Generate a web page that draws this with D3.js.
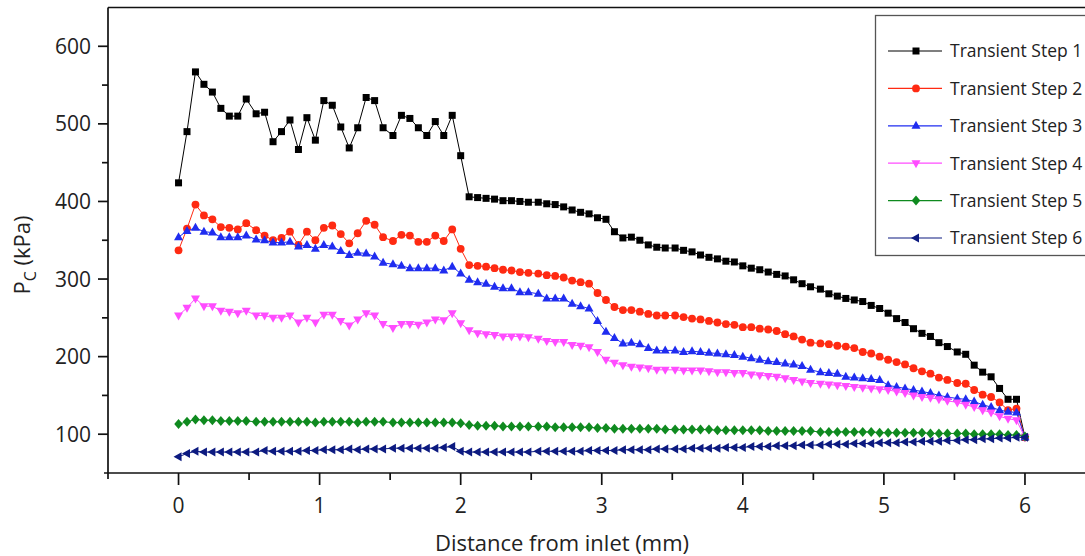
<!DOCTYPE html>
<html>
<head>
<meta charset="utf-8">
<script src="https://cdn.jsdelivr.net/npm/d3@7"></script>
<style>
  body { margin: 0; background: #fff; }
  svg { display: block; }
</style>
</head>
<body>
<svg id="chart" width="1085" height="556"></svg>
<script>
// Distance from inlet (mm) at each sampled node
const distance = [
  0.00, 0.06, 0.12, 0.18, 0.24, 0.30, 0.36, 0.42, 0.48, 0.55,
  0.61, 0.67, 0.73, 0.79, 0.85, 0.91, 0.97, 1.03, 1.09, 1.15,
  1.21, 1.27, 1.33, 1.39, 1.45, 1.52, 1.58, 1.64, 1.70, 1.76,
  1.82, 1.88, 1.94, 2.00, 2.06, 2.12, 2.18, 2.24, 2.30, 2.36,
  2.42, 2.48, 2.55, 2.61, 2.67, 2.73, 2.79, 2.85, 2.91, 2.97,
  3.03, 3.09, 3.15, 3.21, 3.27, 3.33, 3.39, 3.45, 3.52, 3.58,
  3.64, 3.70, 3.76, 3.82, 3.88, 3.94, 4.00, 4.06, 4.12, 4.18,
  4.24, 4.30, 4.36, 4.42, 4.48, 4.55, 4.61, 4.67, 4.73, 4.79,
  4.85, 4.91, 4.97, 5.03, 5.09, 5.15, 5.21, 5.27, 5.33, 5.39,
  5.45, 5.52, 5.58, 5.64, 5.70, 5.76, 5.82, 5.88, 5.94, 6.00
];

// Capillary pressure P_C (kPa) for each transient step
const step1 = [
  424, 490, 567, 551, 541, 520, 510, 510, 532, 513,
  515, 477, 490, 505, 467, 508, 479, 530, 524, 496,
  469, 495, 534, 530, 495, 485, 511, 507, 495, 485,
  503, 485, 511, 459, 406, 405, 404, 403, 401, 401,
  400, 399, 399, 397, 396, 393, 389, 386, 384, 379,
  377, 361, 353, 354, 350, 344, 341, 340, 340, 337,
  335, 331, 328, 326, 323, 322, 317, 314, 312, 309,
  306, 304, 299, 294, 290, 287, 281, 278, 275, 273,
  271, 266, 262, 256, 249, 244, 236, 230, 226, 218,
  213, 206, 203, 189, 180, 174, 159, 145, 145, 96
];
const step2 = [
  337, 365, 396, 382, 377, 367, 366, 364, 372, 363,
  356, 350, 353, 361, 344, 361, 350, 366, 369, 358,
  346, 359, 375, 370, 354, 349, 357, 356, 348, 348,
  356, 349, 364, 339, 318, 317, 316, 314, 312, 311,
  309, 308, 307, 305, 304, 302, 298, 296, 294, 282,
  273, 264, 260, 260, 258, 255, 253, 253, 253, 251,
  249, 248, 246, 244, 242, 241, 238, 238, 236, 235,
  233, 229, 226, 222, 218, 217, 216, 214, 213, 211,
  206, 204, 200, 196, 193, 190, 185, 181, 178, 173,
  170, 166, 165, 157, 151, 148, 141, 131, 133, 96
];
const step3 = [
  354, 362, 366, 361, 360, 354, 354, 354, 356, 351,
  350, 347, 347, 348, 342, 344, 339, 344, 342, 336,
  331, 334, 333, 329, 321, 319, 317, 314, 314, 314,
  314, 311, 316, 307, 299, 296, 294, 290, 288, 288,
  283, 283, 281, 275, 275, 275, 268, 265, 262, 246,
  232, 224, 217, 218, 216, 211, 208, 208, 208, 206,
  207, 206, 205, 204, 203, 202, 200, 198, 196, 194,
  193, 191, 190, 188, 183, 180, 179, 178, 174, 173,
  172, 171, 170, 163, 161, 159, 157, 155, 153, 150,
  148, 146, 145, 142, 138, 135, 131, 129, 128, 96
];
const step4 = [
  253, 263, 275, 265, 265, 259, 258, 256, 259, 253,
  253, 250, 250, 253, 244, 250, 244, 254, 254, 246,
  240, 248, 256, 253, 242, 237, 242, 242, 241, 244,
  248, 247, 256, 243, 234, 230, 229, 228, 226, 226,
  226, 225, 223, 220, 219, 219, 215, 214, 212, 206,
  196, 192, 189, 187, 186, 185, 183, 183, 183, 182,
  182, 182, 181, 180, 180, 179, 179, 177, 176, 175,
  174, 172, 170, 168, 166, 165, 164, 163, 162, 161,
  160, 159, 158, 157, 155, 153, 150, 148, 147, 145,
  143, 141, 138, 135, 131, 128, 123, 120, 118, 96
];
const step5 = [
  113, 116, 119, 118, 118, 117, 117, 117, 117, 116,
  116, 116, 116, 116, 116, 116, 115, 116, 116, 116,
  116, 115, 116, 116, 116, 115, 115, 115, 115, 115,
  115, 115, 115, 114, 112, 111, 111, 111, 110, 110,
  110, 110, 110, 110, 109, 109, 109, 109, 109, 108,
  108, 107, 107, 107, 107, 107, 107, 106, 106, 106,
  106, 106, 106, 105, 105, 105, 105, 105, 105, 104,
  104, 104, 104, 104, 104, 103, 103, 103, 103, 103,
  103, 103, 102, 102, 102, 102, 102, 102, 101, 101,
  101, 101, 101, 100, 100, 100, 100, 99, 99, 97
];
const step6 = [
  71, 75, 78, 77, 77, 77, 77, 77, 77, 77,
  79, 78, 78, 78, 78, 79, 79, 80, 80, 80,
  81, 80, 81, 81, 81, 82, 82, 82, 82, 82,
  82, 83, 84, 78, 77, 77, 77, 77, 77, 77,
  77, 77, 78, 78, 78, 78, 78, 78, 79, 79,
  79, 79, 80, 80, 80, 80, 81, 81, 81, 81,
  82, 82, 82, 82, 83, 83, 83, 84, 84, 84,
  85, 85, 85, 86, 86, 86, 87, 87, 87, 88,
  88, 88, 89, 89, 89, 90, 90, 91, 91, 91,
  92, 92, 93, 93, 94, 94, 95, 95, 96, 96
];

const seriesNames = ["Transient Step 1", "Transient Step 2", "Transient Step 3",
                     "Transient Step 4", "Transient Step 5", "Transient Step 6"];
const seriesValues = [step1, step2, step3, step4, step5, step6];
const seriesColors = ["#000000", "#ff2a12", "#1f2cf0", "#ff4cff", "#0f8a1f", "#0c1a80"];
const seriesShapes = ["square", "circle", "triangleUp", "triangleDown", "diamond", "triangleLeft"];

const xTickValues = [0, 1, 2, 3, 4, 5, 6];
const xMinorTicks = [0.5, 1.5, 2.5, 3.5, 4.5, 5.5];
const yTickValues = [100, 200, 300, 400, 500, 600];
const yMinorTicks = [150, 250, 350, 450, 550];

const svg = d3.select("#chart");
const x = d3.scaleLinear().domain([-0.5, 6.5]).range([108, 1095.5]);
const y = d3.scaleLinear().domain([50, 650]).range([473, 7.5]);

const FONT = "'Open Sans', 'Noto Sans', sans-serif";

// Marker outlines, centred on the data point
function markerPath(shape) {
  switch (shape) {
    case "square": return "M-3.5,-3.5H3.5V3.5H-3.5Z";
    case "circle": return d3.symbol(d3.symbolCircle, 48)();
    case "triangleUp": return "M0,-5L4.5,3L-4.5,3Z";
    case "triangleDown": return "M0,5L4.5,-3L-4.5,-3Z";
    case "diamond": return "M0,-5L4.3,0L0,5L-4.3,0Z";
    case "triangleLeft": return "M-5,0L3,-4.5L3,4.5Z";
  }
}

// Frame: left and bottom axes plus top border
const frame = svg.append("g").attr("stroke", "#111").attr("stroke-width", 1.7).attr("fill", "none");
frame.append("line").attr("x1", x(-0.5)).attr("x2", x(-0.5)).attr("y1", y(650)).attr("y2", y(50) + 6);
frame.append("line").attr("x1", x(-0.5) - 4).attr("x2", 1085).attr("y1", y(50)).attr("y2", y(50));
frame.append("line").attr("x1", x(-0.5)).attr("x2", 1085).attr("y1", y(650)).attr("y2", y(650));

// Y axis ticks and labels
const yAxis = svg.append("g");
yAxis.selectAll("line.major").data(yTickValues).join("line")
  .attr("x1", x(-0.5) - 10).attr("x2", x(-0.5))
  .attr("y1", d => y(d)).attr("y2", d => y(d))
  .attr("stroke", "#111").attr("stroke-width", 1.7);
yAxis.selectAll("line.minor").data(yMinorTicks).join("line")
  .attr("x1", x(-0.5) - 6).attr("x2", x(-0.5))
  .attr("y1", d => y(d)).attr("y2", d => y(d))
  .attr("stroke", "#111").attr("stroke-width", 1.7);
yAxis.selectAll("text").data(yTickValues).join("text")
  .attr("x", x(-0.5) - 17).attr("y", d => y(d))
  .attr("dy", "0.36em").attr("text-anchor", "end")
  .attr("font-family", FONT).attr("font-size", 21).attr("fill", "#222")
  .text(d => d);

// X axis ticks and labels
const xAxis = svg.append("g");
xAxis.selectAll("line.major").data(xTickValues).join("line")
  .attr("x1", d => x(d)).attr("x2", d => x(d))
  .attr("y1", y(50)).attr("y2", y(50) + 12)
  .attr("stroke", "#111").attr("stroke-width", 1.7);
xAxis.selectAll("line.minor").data(xMinorTicks).join("line")
  .attr("x1", d => x(d)).attr("x2", d => x(d))
  .attr("y1", y(50)).attr("y2", y(50) + 7)
  .attr("stroke", "#111").attr("stroke-width", 1.7);
xAxis.selectAll("text").data(xTickValues).join("text")
  .attr("x", d => x(d)).attr("y", 505)
  .attr("dy", "0.36em").attr("text-anchor", "middle")
  .attr("font-family", FONT).attr("font-size", 21).attr("fill", "#222")
  .text(d => d);

// Axis titles
svg.append("text")
  .attr("x", 562).attr("y", 543).attr("dy", "0.36em")
  .attr("text-anchor", "middle")
  .attr("font-family", FONT).attr("font-size", 22).attr("fill", "#222")
  .text("Distance from inlet (mm)");

const yTitle = svg.append("text")
  .attr("transform", "translate(30,255) rotate(-90)")
  .attr("text-anchor", "middle")
  .attr("font-family", FONT).attr("font-size", 22).attr("fill", "#222");
yTitle.append("tspan").text("P");
yTitle.append("tspan").attr("font-size", 16).attr("dy", 6).text("C");
yTitle.append("tspan").attr("dy", -6).text(" (kPa)");

// Series: connecting line first, then markers
const line = d3.line().x((d, i) => x(distance[i])).y(d => y(d));
seriesValues.forEach((vals, k) => {
  const g = svg.append("g");
  g.append("path").datum(vals)
    .attr("d", line)
    .attr("fill", "none")
    .attr("stroke", seriesColors[k])
    .attr("stroke-width", 1);
  g.selectAll("path.m").data(vals).join("path")
    .attr("class", "m")
    .attr("transform", (d, i) => `translate(${x(distance[i])},${y(d)})`)
    .attr("d", markerPath(seriesShapes[k]))
    .attr("fill", seriesColors[k]);
});

// Legend
const legend = svg.append("g");
legend.append("rect")
  .attr("x", 875.5).attr("y", 15.5).attr("width", 240).attr("height", 240)
  .attr("fill", "#fff").attr("stroke", "#555").attr("stroke-width", 1.3);
const rowY = i => 51 + i * 37.4;
seriesNames.forEach((name, k) => {
  legend.append("line")
    .attr("x1", 888).attr("x2", 942).attr("y1", rowY(k)).attr("y2", rowY(k))
    .attr("stroke", seriesColors[k]).attr("stroke-width", 1.2);
  legend.append("path")
    .attr("transform", `translate(916,${rowY(k)})`)
    .attr("d", markerPath(seriesShapes[k]))
    .attr("fill", seriesColors[k]);
  legend.append("text")
    .attr("x", 950).attr("y", rowY(k)).attr("dy", "0.36em")
    .attr("font-family", FONT).attr("font-size", 17.5).attr("fill", "#222")
    .text(name);
});
</script>
</body>
</html>
